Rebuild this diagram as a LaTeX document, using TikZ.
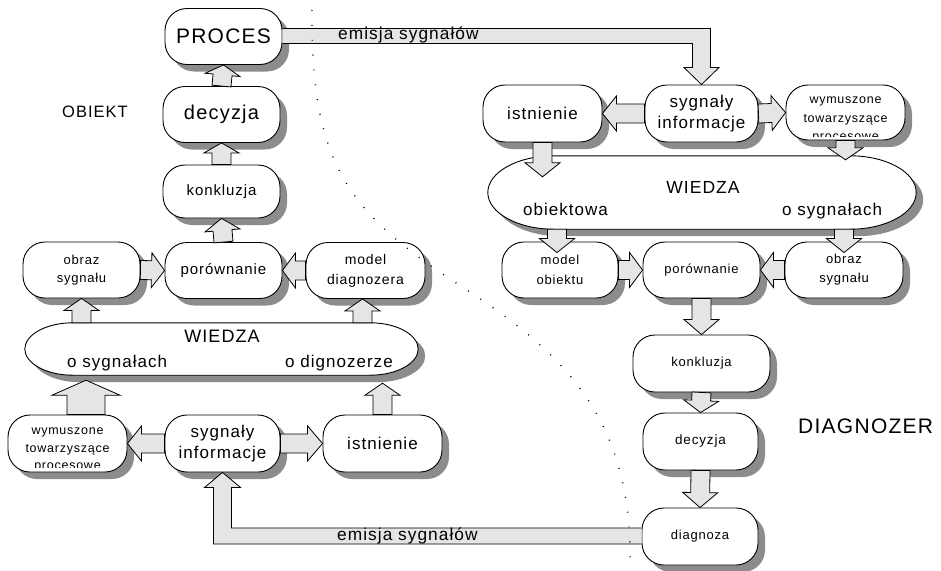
\documentclass[tikz,border=0pt]{standalone}
\usepackage{fontspec}
\setmainfont{Liberation Sans}[LetterSpace=6]
\usetikzlibrary{calc,shadows}

\newcommand\fsz[2]{\fontsize{#1}{#2}\selectfont}

% hollow block arrow: shaft half-width, head half-width, head length, from, to
\newcommand\barrowx[5]{%
  \path #4 coordinate (ba-s) #5 coordinate (ba-e);
  \path ($(ba-e)!#3!(ba-s)$) coordinate (ba-h);
  \draw[blk] ($(ba-s)!#1!90:(ba-e)$) -- ($(ba-h)!#1!90:(ba-e)$)
    -- ($(ba-h)!#2!90:(ba-e)$) -- (ba-e) -- ($(ba-h)!#2!-90:(ba-e)$)
    -- ($(ba-h)!#1!-90:(ba-e)$) -- ($(ba-s)!#1!-90:(ba-e)$) -- cycle;}
\newcommand\barrow[2]{\barrowx{9.5pt}{17.5pt}{12pt}{#1}{#2}}

% knowledge blob: flat top and bottom, half-elliptic ends
% #1 node, #2 horizontal radius of the ends, #3 half height
\newcommand\blob[3]{%
  \path[blobline] ($(#1.north west)+(#2,0)$) -- ($(#1.north east)+(-#2,0)$)
   .. controls ($(#1.north east)+(-0.448*#2,0)$) and ($(#1.east)+(0,-0.552*#3)$) .. (#1.east)
   .. controls ($(#1.east)+(0,0.552*#3)$) and ($(#1.south east)+(-0.448*#2,0)$) .. ($(#1.south east)+(-#2,0)$)
   -- ($(#1.south west)+(#2,0)$)
   .. controls ($(#1.south west)+(0.448*#2,0)$) and ($(#1.west)+(0,0.552*#3)$) .. (#1.west)
   .. controls ($(#1.west)+(0,-0.552*#3)$) and ($(#1.north west)+(0.448*#2,0)$) .. ($(#1.north west)+(#2,0)$)
   -- cycle;}

\begin{document}
\begin{tikzpicture}[x=1pt,y=-1pt,
  shade/.style={drop shadow={shadow xshift=7pt, shadow yshift=-7pt, fill=black!45, opacity=1}},
  box/.style={draw, line width=0.9pt, rounded corners=22pt, fill=white, align=center,
    inner sep=0pt, minimum width=117pt, minimum height=56pt, shade},
  blk/.style={draw, line width=0.8pt, fill=black!10, line join=miter},
  band/.style={draw, line width=0.8pt, fill=black!10},
  blobbox/.style={inner sep=0pt, minimum width=#1},
  blobline/.style={draw, line width=0.9pt, fill=white, shade},
  lbl/.style={inner sep=0pt},
  wtxt/.style={inner sep=0pt, align=center},
  dotline/.style={line width=1.4pt, dash pattern=on 0.9pt off 14pt}]

\useasboundingbox (0,0) rectangle (941,570);

% ---------- object side ----------
\node[box, font=\fsz{21}{24}] (proc) at (223.5,36.5) {PROCES};
\node[box, font=\fsz{20}{24}] (decL) at (221.5,114.5) {decyzja};
\node[box, font=\fsz{15}{18}, minimum height=53pt] (konL) at (221.5,191.5) {konkluzja};
\node[box, font=\fsz{15}{18}] (porL) at (223.5,270.5) {porównanie};
\node[box, font=\fsz{13}{18}] (obrL) at (81.5,270) {obraz\\sygnału};
\node[box, font=\fsz{14}{20}, minimum width=119pt] (modL) at (365.5,270.5) {model\\diagnozera};
\node[box, minimum width=119pt, minimum height=57pt] (wymL) at (67.5,443.5) {};
\node[box, font=\fsz{17}{21}, minimum width=115pt, minimum height=57pt] (sygL) at (222.5,443.5) {sygnały\\informacje};
\node[box, font=\fsz{17}{21}, minimum width=119pt, minimum height=57pt] (istL) at (382.5,443.5) {istnienie};

% ---------- diagnoser side ----------
\node[box, font=\fsz{17}{21}, minimum width=119pt, minimum height=57pt] (istR) at (542.5,113.5) {istnienie};
\node[box, font=\fsz{17}{21}, minimum width=113pt, minimum height=57pt] (sygR) at (701.5,113.5) {sygnały\\informacje};
\node[box, minimum width=119pt, minimum height=55pt] (wymR) at (845.5,112.5) {};
\node[box, font=\fsz{13}{20}, minimum width=116pt] (modR) at (560,270) {model\\obiektu};
\node[box, font=\fsz{13}{18}] (porR) at (701.5,270) {porównanie};
\node[box, font=\fsz{13}{19}, minimum width=118pt] (obrR) at (844,270) {obraz\\sygnału};
\node[box, font=\fsz{13}{18}, minimum width=137pt, minimum height=57pt] (konR) at (701.5,363.5) {konkluzja};
\node[box, font=\fsz{13.5}{18}, minimum width=115pt, minimum height=57pt] (decR) at (700.5,441.5) {decyzja};
\node[box, font=\fsz{13}{18}, minimum width=116pt, minimum height=57pt] (diaR) at (700,536.5) {diagnoza};

% ---------- knowledge blobs ----------
\node[blobbox=393pt, minimum height=52pt] (wl) at (221.5,349) {};
\blob{wl}{48}{26}
\node[lbl, font=\fsz{18}{21}] (wlt) at (222,336.5) {WIEDZA};
\node[lbl, font=\fsz{17}{20}, anchor=base west] (wls) at (67,367) {o sygnałach};
\node[lbl, font=\fsz{17}{20}, anchor=base west] (wld) at (285,367) {o dignozerze};

\node[blobbox=428pt, minimum height=73pt] (wr) at (702,192.5) {};
\blob{wr}{66}{36.5}
\node[lbl, font=\fsz{17.5}{21}] (wrt) at (703,187) {WIEDZA};
\node[lbl, font=\fsz{17}{20}, anchor=base west] (wro) at (523,215) {obiektowa};
\node[lbl, font=\fsz{17}{20}, anchor=base west] (wrs) at (782,215) {o sygnałach};

% ---------- three-line boxes, text cut by the box ----------
\begin{scope}
  \clip (wymL.north west) rectangle ($(wymL.south east)+(0,-5)$);
  \node[wtxt, font=\fsz{12.5}{17.5}] (wymLt) at ($(wymL.center)+(0,6.5)$) {wymuszone\\towarzyszące\\procesowe};
\end{scope}
\begin{scope}
  \clip (wymR.north west) rectangle ($(wymR.south east)+(0,-3.5)$);
  \node[wtxt, font=\fsz{12.5}{18.5}] (wymRt) at ($(wymR.center)+(0,7.5)$) {wymuszone\\towarzyszące\\procesowe};
\end{scope}

% ---------- block arrows, object side ----------
\barrowx{9.5pt}{17.5pt}{10pt}{(decL.north)}{(proc.south)}
\barrowx{9.5pt}{17.5pt}{10pt}{(konL.north)}{(decL.south)}
\barrow{(porL.north)}{(konL.south)}
\barrowx{9.5pt}{17.5pt}{13pt}{(obrL.east)}{(porL.west)}
\barrowx{9.5pt}{17.5pt}{13pt}{(modL.west)}{(porL.east)}
\barrow{(obrL.south |- wl.north)}{(obrL.south)}
\barrow{($(modL.south |- wl.north)+(-3,0)$)}{($(modL.south)+(-3,0)$)}
\barrowx{19pt}{34pt}{15pt}{($(wymL.north)+(18.5,0)$)}{($(wymL.north |- wl.south)+(18.5,5)$)}
\barrow{(istL.north)}{($(istL.north |- wl.south)+(0,8)$)}
\barrowx{9.5pt}{17.5pt}{14pt}{(sygL.west)}{(wymL.east)}
\barrowx{9.5pt}{17.5pt}{15pt}{(sygL.east)}{(istL.west)}

% ---------- block arrows, diagnoser side ----------
\barrowx{9.5pt}{17.5pt}{14pt}{(sygR.west)}{(istR.east)}
\barrowx{9.5pt}{17.5pt}{14pt}{(sygR.east)}{(wymR.west)}
\barrowx{9.5pt}{17.5pt}{14pt}{(istR.south)}{($(istR.south |- wr.north)+(0,21)$)}
\barrow{(wymR.south)}{($(wymR.south |- wr.north)+(0,4)$)}
\barrowx{9.5pt}{17.5pt}{14pt}{($(modR.north |- wr.south)+(-3,0)$)}{($(modR.north)+(-3,11)$)}
\barrowx{9.5pt}{17.5pt}{14pt}{(obrR.north |- wr.south)}{($(obrR.north)+(0,11)$)}
\barrowx{9.5pt}{17.5pt}{13pt}{(modR.east)}{(porR.west)}
\barrowx{9.5pt}{17.5pt}{13pt}{(obrR.west)}{(porR.east)}
\barrowx{9.5pt}{17.5pt}{15pt}{(porR.south)}{(konR.north)}
\barrow{(konR.south)}{(decR.north)}
\barrowx{9.5pt}{17.5pt}{15pt}{(decR.south)}{(diaR.north)}

% ---------- signal emission bands ----------
\coordinate (t-a) at ($(proc.east)+(0,-8)$);
\coordinate (t-b) at ($(proc.east)+(0,7)$);
\coordinate (t-tip) at (sygR.north);
\path[band] (t-a) -- ($(t-a -| t-tip)+(9,0)$) -- ($(t-tip)+(9,-17)$) -- ($(t-tip)+(17.5,-17)$)
  -- (t-tip) -- ($(t-tip)+(-17.5,-17)$) -- ($(t-tip)+(-9,-17)$) -- ($(t-b -| t-tip)+(-9,0)$) -- (t-b);
\node[lbl, font=\fsz{17.3}{20}, anchor=base west] (em1) at (338,39.5) {emisja sygnałów};

\coordinate (b-a) at ($(diaR.west)+(0,-8.5)$);
\coordinate (b-b) at ($(diaR.west)+(0,7.5)$);
\coordinate (b-tip) at (sygL.south);
\path[band] (b-a) -- ($(b-a -| b-tip)+(9,0)$) -- ($(b-tip)+(9,15)$) -- ($(b-tip)+(18,15)$)
  -- (b-tip) -- ($(b-tip)+(-18,15)$) -- ($(b-tip)+(-9,15)$) -- ($(b-b -| b-tip)+(-9,0)$) -- (b-b);
\node[lbl, font=\fsz{17.3}{20}, anchor=base west] (em2) at (337,540) {emisja sygnałów};

% ---------- side titles ----------
\node[lbl, font=\fsz{16.5}{20}, anchor=base west] (obiekt) at (62,117) {OBIEKT};
\node[lbl, font=\fsz{21}{24}, anchor=base west] (diagnozer) at (798,433) {DIAGNOZER};

% ---------- dotted boundary between object and diagnoser ----------
\draw[dotline] (312,10) .. controls (311,170) and (350,215) .. (470,292)
  .. controls (565,355) and (632,420) .. (630,562);

\end{tikzpicture}
\end{document}
